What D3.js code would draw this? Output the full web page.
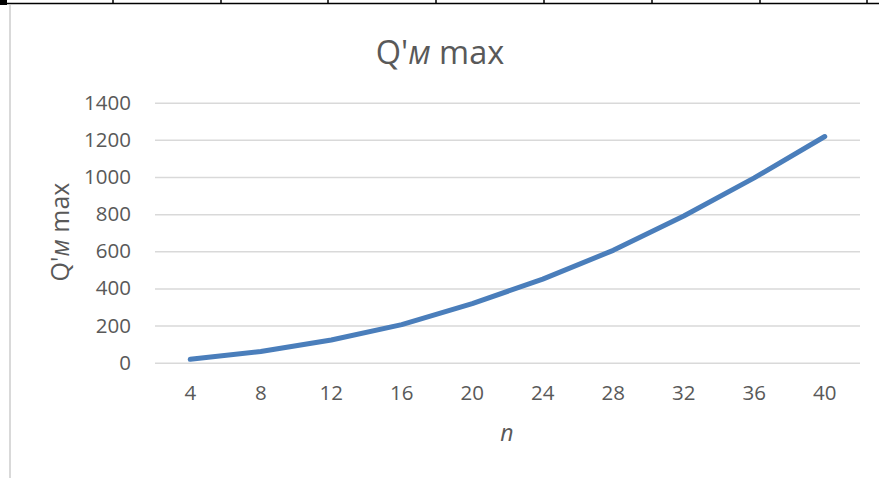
<!DOCTYPE html>
<html>
<head>
<meta charset="utf-8">
<script src="https://cdn.jsdelivr.net/npm/d3@7"></script>
<style>
  html, body { margin: 0; padding: 0; background: #fff; }
  svg { display: block; }
  text { font-family: "Open Sans", "Noto Sans", sans-serif; fill: #595959; }
</style>
</head>
<body>
<svg id="chart" width="879" height="478"></svg>
<script>
// Number of elements n and the corresponding maximum Q'м
const categories = [4, 8, 12, 16, 20, 24, 28, 32, 36, 40];
const qmMax = [18, 60, 122, 205, 318, 450, 605, 790, 995, 1218];
const yTicks = [0, 200, 400, 600, 800, 1000, 1200, 1400];
const tableColumnEdges = [113, 221, 328, 436, 544, 652, 760, 867];

const svg = d3.select("#chart");
const W = 879, H = 478;

// Page table frame around the chart
svg.append("line")
  .attr("x1", 0).attr("x2", W).attr("y1", 3.5).attr("y2", 3.5)
  .attr("stroke", "#000").attr("stroke-width", 1.5);
svg.append("rect").attr("x", 0).attr("y", 0).attr("width", 7).attr("height", 5).attr("fill", "#000");
svg.selectAll("line.col").data(tableColumnEdges).enter().append("line")
  .attr("class", "col")
  .attr("x1", d => d).attr("x2", d => d).attr("y1", 0).attr("y2", 4)
  .attr("stroke", "#000").attr("stroke-width", 1.5);
svg.append("line")
  .attr("x1", 10).attr("x2", 10).attr("y1", 5).attr("y2", H)
  .attr("stroke", "#d9d9d9").attr("stroke-width", 2);

// Plot area
const plot = { left: 155, right: 860, top: 102.7, bottom: 362.7 };

const x = d3.scaleBand().domain(categories).range([plot.left, plot.right]);
const y = d3.scaleLinear().domain([0, 1400]).range([plot.bottom, plot.top]);

const tickFont = "20.5px";

// Horizontal gridlines
svg.append("g")
  .attr("transform", `translate(${plot.left},0)`)
  .call(d3.axisLeft(y).tickValues(yTicks).tickSize(-(plot.right - plot.left)).tickFormat(""))
  .call(g => g.select(".domain").remove())
  .call(g => g.selectAll(".tick line").attr("stroke", "#d9d9d9").attr("stroke-width", 1.5));

// Y tick labels
svg.append("g")
  .attr("transform", `translate(${plot.left - 24},0)`)
  .call(d3.axisLeft(y).tickValues(yTicks).tickSize(0).tickPadding(0).tickFormat(d3.format("d")))
  .call(g => g.select(".domain").remove())
  .call(g => g.selectAll(".tick text")
    .attr("font-size", tickFont).attr("fill", "#595959")
    .attr("font-family", "'Open Sans', sans-serif"));

// X tick labels
svg.append("g")
  .attr("transform", `translate(0,${plot.bottom})`)
  .call(d3.axisBottom(x).tickSize(0).tickPadding(23))
  .call(g => g.select(".domain").remove())
  .call(g => g.selectAll(".tick text")
    .attr("font-size", tickFont).attr("fill", "#595959")
    .attr("font-family", "'Open Sans', sans-serif"));

// Series line
const line = d3.line()
  .x((d, i) => x(categories[i]) + x.bandwidth() / 2)
  .y(d => y(d));

svg.append("path")
  .datum(qmMax)
  .attr("d", line)
  .attr("fill", "none")
  .attr("stroke", "#4a7ebb")
  .attr("stroke-width", 5)
  .attr("stroke-linecap", "round")
  .attr("stroke-linejoin", "round");

// Chart title
const title = svg.append("text")
  .attr("x", 440).attr("y", 64)
  .attr("text-anchor", "middle")
  .attr("font-size", "32.5px");
title.append("tspan").text("Q'");
title.append("tspan").attr("font-style", "italic").text("м");
title.append("tspan").text(" max");

// Y axis title
const yTitle = svg.append("text")
  .attr("transform", `translate(69,232) rotate(-90)`)
  .attr("text-anchor", "middle")
  .attr("font-size", "25px");
yTitle.append("tspan").text("Q'");
yTitle.append("tspan").attr("font-style", "italic").text("м");
yTitle.append("tspan").text(" max");

// X axis title
svg.append("text")
  .attr("x", 507).attr("y", 441)
  .attr("text-anchor", "middle")
  .attr("font-size", "23px")
  .attr("font-style", "italic")
  .text("n");
</script>
</body>
</html>
